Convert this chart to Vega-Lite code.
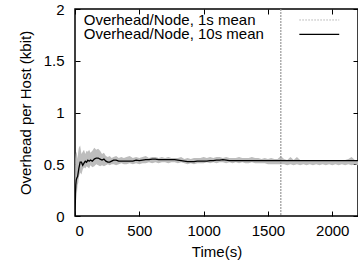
{
  "$schema": "https://vega.github.io/schema/vega-lite/v6.json",
  "width": 283,
  "height": 207,
  "autosize": "none",
  "padding": {"left": 75, "top": 9, "right": 0, "bottom": 52},
  "background": "white",
  "config": {
    "view": {"stroke": "black", "strokeWidth": 1.5},
    "font": "Liberation Sans",
    "axis": {"grid": false, "labelFont": "Liberation Sans", "titleFont": "Liberation Sans", "labelFontSize": 15, "titleFontSize": 15, "labelColor": "black", "titleColor": "black", "titleFontWeight": "normal", "domain": false, "tickColor": "black", "tickWidth": 1}
  },
  "datasets": {
    "series": [
    {"t": 0, "lo": 0, "hi": 0, "m": 0},
    {"t": 3, "lo": 0.05, "hi": 0.55, "m": 0.15},
    {"t": 6, "lo": 0.2, "hi": 0.6, "m": 0.3},
    {"t": 10, "lo": 0.28, "hi": 0.62, "m": 0.35},
    {"t": 15, "lo": 0.22, "hi": 0.6, "m": 0.37},
    {"t": 20, "lo": 0.3, "hi": 0.55, "m": 0.38},
    {"t": 25, "lo": 0.32, "hi": 0.62, "m": 0.42},
    {"t": 30, "lo": 0.38, "hi": 0.66, "m": 0.46},
    {"t": 40, "lo": 0.42, "hi": 0.68, "m": 0.52},
    {"t": 50, "lo": 0.4, "hi": 0.6, "m": 0.52},
    {"t": 60, "lo": 0.45, "hi": 0.62, "m": 0.49},
    {"t": 70, "lo": 0.47, "hi": 0.64, "m": 0.51},
    {"t": 80, "lo": 0.46, "hi": 0.6, "m": 0.53},
    {"t": 90, "lo": 0.48, "hi": 0.63, "m": 0.52},
    {"t": 100, "lo": 0.47, "hi": 0.62, "m": 0.54},
    {"t": 110, "lo": 0.46, "hi": 0.64, "m": 0.53},
    {"t": 120, "lo": 0.49, "hi": 0.61, "m": 0.54},
    {"t": 135, "lo": 0.47, "hi": 0.63, "m": 0.53},
    {"t": 150, "lo": 0.48, "hi": 0.66, "m": 0.55},
    {"t": 165, "lo": 0.5, "hi": 0.64, "m": 0.56},
    {"t": 180, "lo": 0.49, "hi": 0.65, "m": 0.56},
    {"t": 195, "lo": 0.48, "hi": 0.63, "m": 0.55},
    {"t": 210, "lo": 0.49, "hi": 0.6, "m": 0.54},
    {"t": 225, "lo": 0.48, "hi": 0.61, "m": 0.55},
    {"t": 240, "lo": 0.49, "hi": 0.58, "m": 0.53},
    {"t": 255, "lo": 0.5, "hi": 0.57, "m": 0.52},
    {"t": 270, "lo": 0.49, "hi": 0.58, "m": 0.52},
    {"t": 285, "lo": 0.5, "hi": 0.56, "m": 0.53},
    {"t": 300, "lo": 0.5, "hi": 0.57, "m": 0.54},
    {"t": 320, "lo": 0.49, "hi": 0.58, "m": 0.54},
    {"t": 340, "lo": 0.5, "hi": 0.56, "m": 0.53},
    {"t": 360, "lo": 0.51, "hi": 0.57, "m": 0.53},
    {"t": 380, "lo": 0.5, "hi": 0.56, "m": 0.53},
    {"t": 400, "lo": 0.5, "hi": 0.57, "m": 0.53},
    {"t": 425, "lo": 0.51, "hi": 0.58, "m": 0.53},
    {"t": 450, "lo": 0.5, "hi": 0.56, "m": 0.53},
    {"t": 475, "lo": 0.51, "hi": 0.57, "m": 0.54},
    {"t": 500, "lo": 0.5, "hi": 0.56, "m": 0.535},
    {"t": 525, "lo": 0.51, "hi": 0.57, "m": 0.54},
    {"t": 550, "lo": 0.51, "hi": 0.58, "m": 0.545},
    {"t": 575, "lo": 0.52, "hi": 0.56, "m": 0.545},
    {"t": 600, "lo": 0.51, "hi": 0.57, "m": 0.55},
    {"t": 625, "lo": 0.52, "hi": 0.57, "m": 0.55},
    {"t": 650, "lo": 0.51, "hi": 0.56, "m": 0.545},
    {"t": 675, "lo": 0.52, "hi": 0.57, "m": 0.545},
    {"t": 700, "lo": 0.52, "hi": 0.56, "m": 0.545},
    {"t": 725, "lo": 0.51, "hi": 0.57, "m": 0.545},
    {"t": 750, "lo": 0.52, "hi": 0.56, "m": 0.545},
    {"t": 775, "lo": 0.52, "hi": 0.56, "m": 0.545},
    {"t": 800, "lo": 0.51, "hi": 0.56, "m": 0.54},
    {"t": 825, "lo": 0.52, "hi": 0.57, "m": 0.535},
    {"t": 850, "lo": 0.51, "hi": 0.55, "m": 0.53},
    {"t": 875, "lo": 0.5, "hi": 0.56, "m": 0.525},
    {"t": 900, "lo": 0.51, "hi": 0.55, "m": 0.525},
    {"t": 925, "lo": 0.5, "hi": 0.56, "m": 0.525},
    {"t": 950, "lo": 0.51, "hi": 0.56, "m": 0.53},
    {"t": 975, "lo": 0.51, "hi": 0.56, "m": 0.53},
    {"t": 1000, "lo": 0.51, "hi": 0.57, "m": 0.53},
    {"t": 1025, "lo": 0.52, "hi": 0.56, "m": 0.53},
    {"t": 1050, "lo": 0.51, "hi": 0.57, "m": 0.535},
    {"t": 1075, "lo": 0.52, "hi": 0.56, "m": 0.535},
    {"t": 1100, "lo": 0.51, "hi": 0.57, "m": 0.54},
    {"t": 1125, "lo": 0.52, "hi": 0.57, "m": 0.54},
    {"t": 1150, "lo": 0.52, "hi": 0.56, "m": 0.545},
    {"t": 1175, "lo": 0.51, "hi": 0.57, "m": 0.54},
    {"t": 1200, "lo": 0.52, "hi": 0.56, "m": 0.535},
    {"t": 1225, "lo": 0.51, "hi": 0.56, "m": 0.535},
    {"t": 1250, "lo": 0.52, "hi": 0.56, "m": 0.535},
    {"t": 1275, "lo": 0.51, "hi": 0.57, "m": 0.535},
    {"t": 1300, "lo": 0.52, "hi": 0.56, "m": 0.535},
    {"t": 1325, "lo": 0.51, "hi": 0.56, "m": 0.535},
    {"t": 1350, "lo": 0.51, "hi": 0.56, "m": 0.535},
    {"t": 1375, "lo": 0.52, "hi": 0.57, "m": 0.535},
    {"t": 1400, "lo": 0.51, "hi": 0.56, "m": 0.535},
    {"t": 1425, "lo": 0.51, "hi": 0.56, "m": 0.535},
    {"t": 1450, "lo": 0.51, "hi": 0.55, "m": 0.535},
    {"t": 1475, "lo": 0.51, "hi": 0.56, "m": 0.535},
    {"t": 1500, "lo": 0.5, "hi": 0.55, "m": 0.535},
    {"t": 1525, "lo": 0.5, "hi": 0.56, "m": 0.535},
    {"t": 1550, "lo": 0.5, "hi": 0.55, "m": 0.535},
    {"t": 1575, "lo": 0.5, "hi": 0.55, "m": 0.535},
    {"t": 1600, "lo": 0.5, "hi": 0.58, "m": 0.535},
    {"t": 1625, "lo": 0.5, "hi": 0.55, "m": 0.535},
    {"t": 1650, "lo": 0.49, "hi": 0.54, "m": 0.535},
    {"t": 1675, "lo": 0.5, "hi": 0.57, "m": 0.535},
    {"t": 1700, "lo": 0.49, "hi": 0.54, "m": 0.535},
    {"t": 1725, "lo": 0.5, "hi": 0.57, "m": 0.535},
    {"t": 1750, "lo": 0.49, "hi": 0.54, "m": 0.535},
    {"t": 1775, "lo": 0.5, "hi": 0.54, "m": 0.535},
    {"t": 1800, "lo": 0.49, "hi": 0.54, "m": 0.535},
    {"t": 1825, "lo": 0.5, "hi": 0.54, "m": 0.535},
    {"t": 1850, "lo": 0.49, "hi": 0.54, "m": 0.535},
    {"t": 1875, "lo": 0.5, "hi": 0.54, "m": 0.535},
    {"t": 1900, "lo": 0.49, "hi": 0.54, "m": 0.535},
    {"t": 1925, "lo": 0.5, "hi": 0.54, "m": 0.535},
    {"t": 1950, "lo": 0.49, "hi": 0.54, "m": 0.535},
    {"t": 1975, "lo": 0.5, "hi": 0.54, "m": 0.535},
    {"t": 2000, "lo": 0.49, "hi": 0.54, "m": 0.535},
    {"t": 2025, "lo": 0.5, "hi": 0.54, "m": 0.535},
    {"t": 2050, "lo": 0.49, "hi": 0.54, "m": 0.535},
    {"t": 2075, "lo": 0.5, "hi": 0.54, "m": 0.535},
    {"t": 2100, "lo": 0.49, "hi": 0.54, "m": 0.535},
    {"t": 2125, "lo": 0.5, "hi": 0.55, "m": 0.535},
    {"t": 2150, "lo": 0.49, "hi": 0.57, "m": 0.535},
    {"t": 2175, "lo": 0.5, "hi": 0.54, "m": 0.535},
    {"t": 2200, "lo": 0.49, "hi": 0.54, "m": 0.535}
    ],
    "legend": [
      {"label": "Overhead/Node, 1s mean", "ly": 1.89},
      {"label": "Overhead/Node, 10s mean", "ly": 1.755}
    ],
    "marker": [{"t": 1600}]
  },
  "layer": [
    {
      "layer": [
        {
          "data": {"name": "series"},
          "mark": {"type": "area", "color": "#bdbdbd", "clip": true},
          "encoding": {
            "x": {"field": "t", "type": "quantitative", "scale": {"domain": [0, 2200], "nice": false, "zero": false},
              "axis": {"orient": "bottom", "title": "Time(s)", "values": [0, 500, 1000, 1500, 2000], "format": "d", "tickSize": -5, "labelPadding": 12, "titlePadding": 6}},
            "y": {"field": "lo", "type": "quantitative", "scale": {"domain": [0, 2], "nice": false},
              "axis": {"orient": "left", "title": "Overhead per Host (kbit)", "values": [0, 0.5, 1, 1.5, 2], "format": "~g", "tickSize": -5, "labelPadding": 16, "titlePadding": 10}},
            "y2": {"field": "hi"}
          }
        },
        {
          "data": {"name": "marker"},
          "mark": {"type": "rule", "color": "#999999", "strokeDash": [2, 1], "strokeWidth": 1.2},
          "encoding": {"x": {"field": "t", "type": "quantitative"}}
        },
        {
          "data": {"name": "legend"},
          "mark": {"type": "text", "align": "left", "baseline": "middle", "fontSize": 15, "font": "Liberation Sans", "color": "black"},
          "encoding": {"x": {"datum": 68, "type": "quantitative"}, "y": {"field": "ly", "type": "quantitative"}, "text": {"field": "label"}}
        },
        {
          "data": {"values": [{"ly": 1.894}]},
          "mark": {"type": "rule", "color": "#b0b0b0", "strokeDash": [1.5, 1.5], "strokeWidth": 1},
          "encoding": {"x": {"datum": 1744, "type": "quantitative"}, "x2": {"datum": 2054}, "y": {"field": "ly", "type": "quantitative"}}
        },
        {
          "data": {"values": [{"ly": 1.755}]},
          "mark": {"type": "rule", "color": "black", "strokeWidth": 1.3},
          "encoding": {"x": {"datum": 1744, "type": "quantitative"}, "x2": {"datum": 2054}, "y": {"field": "ly", "type": "quantitative"}}
        }
      ]
    },
    {
      "data": {"name": "series"},
      "mark": {"type": "line", "color": "black", "strokeWidth": 1.3, "clip": true},
      "encoding": {
        "x": {"field": "t", "type": "quantitative", "axis": {"orient": "top", "title": null, "labels": false, "values": [0, 500, 1000, 1500, 2000], "tickSize": -5}},
        "y": {"field": "m", "type": "quantitative", "axis": {"orient": "right", "title": null, "labels": false, "values": [0, 0.5, 1, 1.5, 2], "tickSize": -5}}
      }
    }
  ],
  "resolve": {"axis": {"x": "independent", "y": "independent"}}
}
